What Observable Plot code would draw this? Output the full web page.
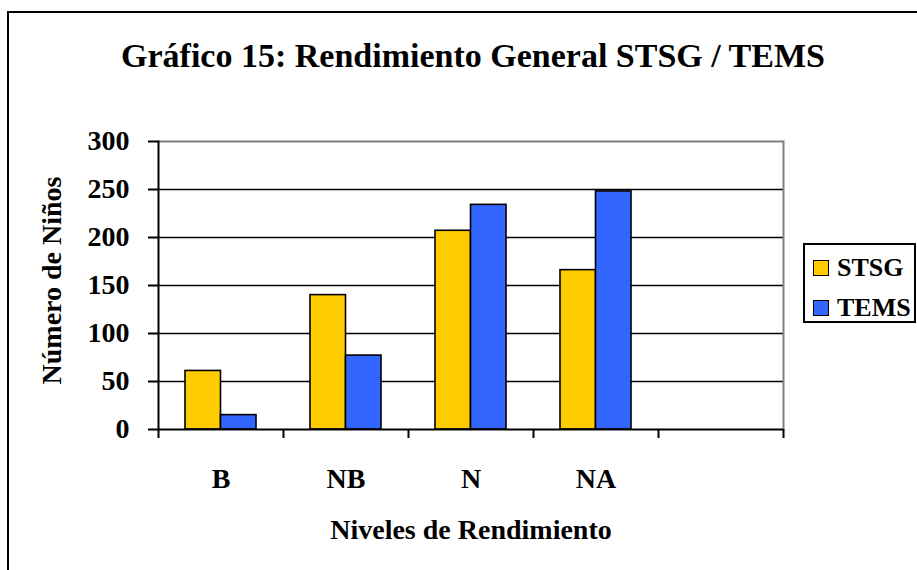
<!DOCTYPE html>
<html>
<head>
<meta charset="utf-8">
<script src="https://cdn.jsdelivr.net/npm/d3@7"></script>
<script src="https://cdn.jsdelivr.net/npm/@observablehq/plot@0.6"></script>
<style>
  html, body { margin: 0; padding: 0; background: #fff; overflow: hidden; }
  #wrap { position: relative; width: 917px; height: 570px; overflow: hidden; font-family: "Liberation Serif", "Times New Roman", serif; }
  #border { position: absolute; left: 7px; top: 11px; width: 1000px; height: 1000px; border: 2px solid #000; box-sizing: border-box; pointer-events: none; }
  #chart { position: absolute; left: 0; top: 0; }
  #legend { position: absolute; left: 803px; top: 243px; width: 113px; height: 80px; border: 2px solid #000; box-sizing: border-box; background: #fff; }
  .item { position: absolute; left: 8px; display: flex; align-items: center; font-weight: bold; font-size: 26px; color: #000; }
  .sw { width: 14px; height: 14px; border: 1.5px solid #000; margin-right: 8px; }
</style>
</head>
<body>
<div id="wrap">
  <div id="chart"></div>
  <div id="border"></div>
  <div id="legend"></div>
</div>
<script>
const title = "Gráfico 15: Rendimiento General STSG / TEMS";
const xTitle = "Niveles de Rendimiento";
const yTitle = "Número de Niños";
const categories = ["B", "NB", "N", "NA", ""];
const series = ["STSG", "TEMS"];
const colors = ["#FFCC00", "#3366FF"];
const stsg = [61, 140, 207, 166];
const tems = [15, 77, 234, 248];
const yTicks = [0, 50, 100, 150, 200, 250, 300];

const data = stsg.map((v, i) => ({cat: categories[i], STSG: v, TEMS: tems[i]}));
const font = "'Liberation Serif', 'Times New Roman', serif";

const chart = Plot.plot({
  width: 917,
  height: 570,
  marginLeft: 158,
  marginRight: 134,
  marginTop: 141,
  marginBottom: 141,
  style: {fontFamily: font, fontWeight: "bold", background: "transparent", color: "#000"},
  x: {domain: categories, padding: 0},
  y: {domain: [0, 300]},
  marks: [
    Plot.gridY(yTicks.filter(v => v > 0 && v < 300), {stroke: "#000", strokeOpacity: 1, strokeWidth: 1.6}),
    Plot.ruleY([300], {stroke: "#808080", strokeWidth: 2}),
    Plot.frame({anchor: "right", stroke: "#808080", strokeWidth: 2}),
    Plot.barY(data, {x: "cat", y: series[0], fill: colors[0], stroke: "#000", strokeWidth: 1.6, insetLeft: 27, insetRight: 62.5}),
    Plot.barY(data, {x: "cat", y: series[1], fill: colors[1], stroke: "#000", strokeWidth: 1.6, insetLeft: 62.5, insetRight: 27}),
    Plot.ruleY([0], {stroke: "#000", strokeWidth: 2}),
    Plot.frame({anchor: "left", stroke: "#000", strokeWidth: 2}),
    Plot.axisY(yTicks, {anchor: "left", tickSize: 10, tickPadding: 19, fontSize: 28, tickFormat: d => String(d), label: null, strokeWidth: 2}),
    Plot.axisX(categories, {anchor: "bottom", tickSize: 9, tickFormat: () => "", dx: -62.5, strokeWidth: 2, label: null}),
    Plot.axisX([categories[4]], {anchor: "bottom", tickSize: 9, tickFormat: () => "", dx: 62.5, strokeWidth: 2, label: null}),
    Plot.axisX(categories.slice(0, 4), {anchor: "bottom", tickSize: 0, tickPadding: 39, fontSize: 28, label: null}),
    Plot.text([title], {frameAnchor: "top", dy: -75, dx: 2, lineAnchor: "bottom", fontSize: 34, fontWeight: "bold", fontFamily: font}),
    Plot.text([xTitle], {frameAnchor: "bottom", dy: 109, lineAnchor: "bottom", fontSize: 28, fontWeight: "bold", fontFamily: font}),
    Plot.text([yTitle], {frameAnchor: "left", textAnchor: "middle", dx: -106, dy: -5, rotate: -90, fontSize: 28, fontWeight: "bold", fontFamily: font})
  ]
});
document.getElementById("chart").appendChild(chart);

const legend = document.getElementById("legend");
series.forEach((s, i) => {
  const item = document.createElement("div");
  item.className = "item";
  item.style.top = (i === 0 ? 8 : 48) + "px";
  const sw = document.createElement("div");
  sw.className = "sw";
  sw.style.background = colors[i];
  const t = document.createElement("span");
  t.textContent = s;
  item.appendChild(sw);
  item.appendChild(t);
  legend.appendChild(item);
});
</script>
</body>
</html>
